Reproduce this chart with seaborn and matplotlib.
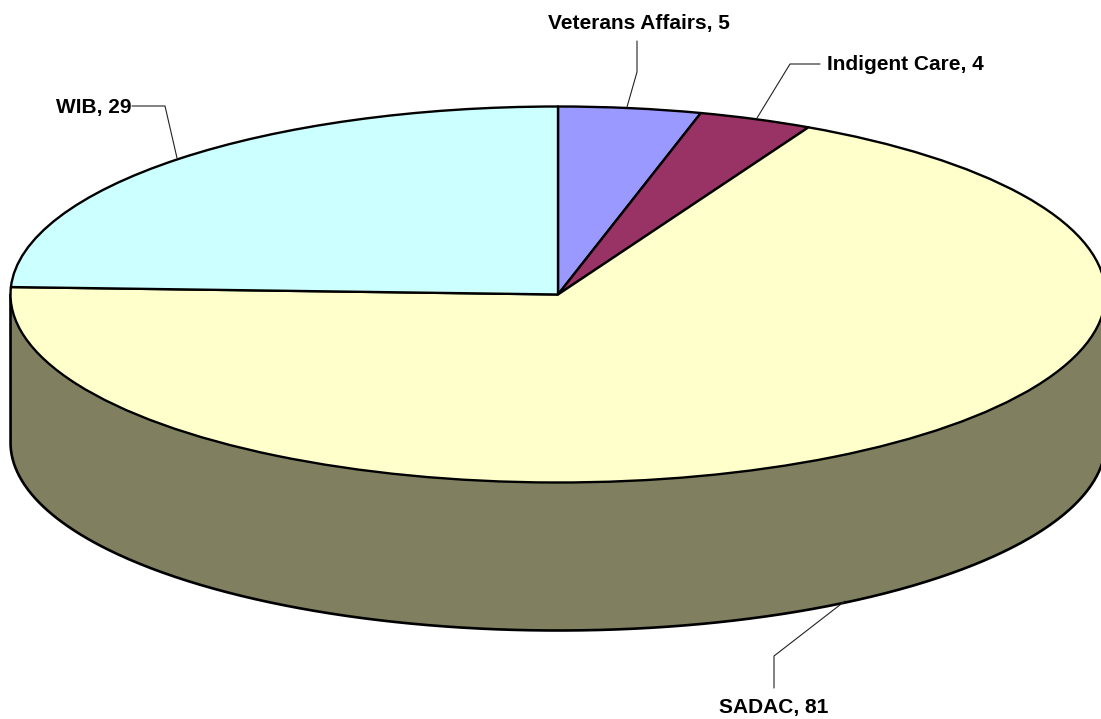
import numpy as np
import matplotlib
matplotlib.use("Agg")
import matplotlib.pyplot as plt
import seaborn as sns

categories = ["Veterans Affairs", "Indigent Care", "SADAC", "WIB"]
values = [5, 4, 81, 29]
top_colors = ["#9999FF", "#993366", "#FFFFCC", "#CCFFFF"]
wall_color = "#808060"

W, H = 1101, 719
CX, CY, RX, RY, DEPTH = 558.0, 294.5, 547.5, 188.0, 148.0

sns.set_theme(style="white")
plt.rcParams["font.family"] = ["Liberation Sans", "DejaVu Sans"]

fig = plt.figure(figsize=(W / 100, H / 100), dpi=100, facecolor="white")
ax = fig.add_axes([0, 0, 1, 1])


def to_data(px, py):
    return (px - CX) / RX, (CY - py) / RY


d = DEPTH / RY
# side wall: the full cylinder body below the top face
ax.pie(values, startangle=90, counterclock=False, radius=1, center=(0, -d),
       colors=[wall_color] * len(values), wedgeprops=dict(edgecolor=wall_color, linewidth=0), frame=True)
ax.add_patch(plt.Rectangle((-1, -d), 2, d, facecolor=wall_color, edgecolor="none", zorder=1.5))
theta = np.linspace(np.pi, 2 * np.pi, 400)
outline_x = np.concatenate([[-1], np.cos(theta), [1]])
outline_y = np.concatenate([[0], np.sin(theta) - d, [0]])
ax.plot(outline_x, outline_y, color="black", lw=1.9, zorder=2, solid_joinstyle="round")

# top face
wedges, _ = ax.pie(values, startangle=90, counterclock=False, radius=1, center=(0, 0),
                   colors=top_colors, wedgeprops=dict(edgecolor="black", linewidth=1.7), frame=True)
for w in wedges:
    w.set_zorder(3)
    w.set_joinstyle("round")

ax.set_aspect("auto")
x0, y0 = to_data(0, H)
x1, y1 = to_data(W, 0)
ax.set_xlim(x0, x1)
ax.set_ylim(y0, y1)
ax.set_xticks([])
ax.set_yticks([])
ax.set_frame_on(False)

# leader lines and labels
leaders = [
    [(637, 41), (637, 72), (627, 107)],
    [(820, 64), (790, 64), (757, 118)],
    [(774, 688), (774, 656), (845, 601)],
    [(132, 106), (165, 106), (177, 158)],
]
label_pos = [(639, 24, "center"), (827, 65, "left"), (774, 708, "center"), (131, 108, "right")]
for cat, val, pts, (lx, ly, ha) in zip(categories, values, leaders, label_pos):
    xs, ys = zip(*[to_data(*p) for p in pts])
    ax.plot(xs, ys, color="#222222", lw=0.8, zorder=4)
    tx, ty = to_data(lx, ly)
    ax.text(tx, ty, f"{cat}, {val}", ha=ha, va="center", fontsize=15, fontweight="bold",
            color="black", zorder=5)

fig.savefig("out.png", dpi=100, facecolor="white")
